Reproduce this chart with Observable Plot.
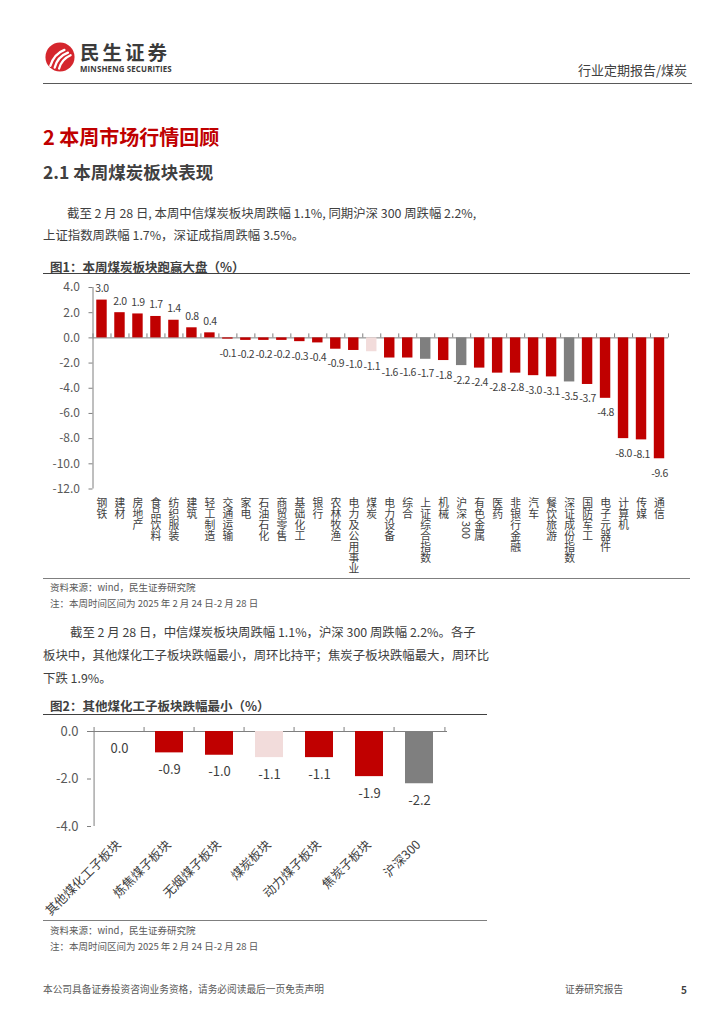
<!DOCTYPE html>
<html><head><meta charset="utf-8">
<script src="https://cdn.jsdelivr.net/npm/d3@7"></script>
<script src="https://cdn.jsdelivr.net/npm/@observablehq/plot@0.6"></script>
<style>
body{margin:0;width:724px;height:1024px;position:relative;background:#fff;font-family:"Noto Sans CJK SC","Noto Sans",sans-serif;color:#404040;overflow:hidden}
.a{position:absolute;white-space:nowrap;line-height:1}
.hr{position:absolute;height:0}
svg text{font-family:"Noto Sans CJK SC","Noto Sans",sans-serif}
</style></head><body>

<svg class="a" style="left:45px;top:42px" width="30" height="30" viewBox="0 0 34 34">
  <circle cx="17" cy="17" r="16.5" fill="#d5262d"/>
  <path d="M6 27 C9 18 14 12 22 9" stroke="#fff" stroke-width="2.6" fill="none" stroke-linecap="round"/>
  <path d="M11 29 C13 21 18 15 26 12" stroke="#fff" stroke-width="2.6" fill="none" stroke-linecap="round"/>
  <path d="M16 30 C18 23 22 18 29 15" stroke="#fff" stroke-width="2.6" fill="none" stroke-linecap="round"/>
</svg>
<div class="a" style="left:80px;top:42px;font-size:19.5px;font-weight:700;color:#3b3b3b;letter-spacing:3px">民生证券</div>
<div class="a" style="left:80px;top:66px;font-size:7.9px;font-weight:700;color:#3b3b3b;font-family:'Open Sans',sans-serif;letter-spacing:0.15px">MINSHENG SECURITIES</div>
<div class="a" style="left:578px;top:63px;font-size:13px;color:#404040">行业定期报告/煤炭</div>
<div class="hr" style="left:43px;top:83px;width:649px;border-top:1.5px solid #595959"></div>

<div class="a" style="left:43px;top:127px;font-size:20px;font-weight:700;color:#c00000">2 本周市场行情回顾</div>
<div class="a" style="left:43px;top:163px;font-size:17.5px;font-weight:700;color:#404040">2.1 本周煤炭板块表现</div>
<div class="a" style="left:67px;top:207px;font-size:12.4px">截至 2 月 28 日, 本周中信煤炭板块周跌幅 1.1%, 同期沪深 300 周跌幅 2.2%,</div>
<div class="a" style="left:43px;top:229px;font-size:12.4px">上证指数周跌幅 1.7%，深证成指周跌幅 3.5%。</div>

<div class="a" style="left:50px;top:261px;font-size:12.5px;font-weight:700;color:#404040">图1：本周煤炭板块跑赢大盘（%）</div>
<div class="hr" style="left:43px;top:273px;width:647px;border-top:1px solid #404040"></div>
<div id="fig1" class="a" style="left:43px;top:276px"></div>
<div class="hr" style="left:43px;top:578px;width:647px;border-top:1px solid #7f7f7f"></div>
<div class="a" style="left:50px;top:583px;font-size:9.5px;color:#595959">资料来源：wind，民生证券研究院</div>
<div class="a" style="left:50px;top:599px;font-size:9.5px;color:#595959">注：本周时间区间为 2025 年 2 月 24 日-2 月 28 日</div>

<div class="a" style="left:70px;top:626px;font-size:12.4px">截至 2 月 28 日，中信煤炭板块周跌幅 1.1%，沪深 300 周跌幅 2.2%。各子</div>
<div class="a" style="left:43px;top:649px;font-size:12.4px">板块中，其他煤化工子板块跌幅最小，周环比持平；焦炭子板块跌幅最大，周环比</div>
<div class="a" style="left:43px;top:672px;font-size:12.4px">下跌 1.9%。</div>

<div class="a" style="left:50px;top:700px;font-size:12.5px;font-weight:700;color:#404040">图2：其他煤化工子板块跌幅最小（%）</div>
<div class="hr" style="left:43px;top:714px;width:444px;border-top:1px solid #404040"></div>
<div id="fig2" class="a" style="left:43px;top:718px"></div>
<div class="hr" style="left:43px;top:920px;width:444px;border-top:1px solid #7f7f7f"></div>
<div class="a" style="left:50px;top:926px;font-size:9.5px;color:#595959">资料来源：wind，民生证券研究院</div>
<div class="a" style="left:50px;top:942px;font-size:9.5px;color:#595959">注：本周时间区间为 2025 年 2 月 24 日-2 月 28 日</div>

<div class="a" style="left:43px;top:985px;font-size:9.7px;color:#595959">本公司具备证券投资咨询业务资格，请务必阅读最后一页免责声明</div>
<div class="a" style="left:565px;top:985px;font-size:9.7px;color:#595959">证券研究报告</div>
<div class="a" style="left:681px;top:985px;font-size:10px;font-weight:700;color:#404040">5</div>

<script>
// ---- Figure 1 data ----
const cats1 = ["钢铁","建材","房地产","食品饮料","纺织服装","建筑","轻工制造","交通运输","家电","石油石化","商贸零售","基础化工","银行","农林牧渔","电力及公用事业","煤炭","电力设备","综合","上证综合指数","机械","沪深300","有色金属","医药","非银行金融","汽车","餐饮旅游","深证成份指数","国防军工","电子元器件","计算机","传媒","通信"];
const vals1 = [3.0,2.0,1.9,1.7,1.4,0.8,0.4,-0.1,-0.2,-0.2,-0.2,-0.3,-0.4,-0.9,-1.0,-1.1,-1.6,-1.6,-1.7,-1.8,-2.2,-2.4,-2.8,-2.8,-3.0,-3.1,-3.5,-3.7,-4.8,-8.0,-8.1,-9.6];
const kinds1 = ["行业","行业","行业","行业","行业","行业","行业","行业","行业","行业","行业","行业","行业","行业","行业","煤炭","行业","行业","指数","行业","指数","行业","行业","行业","行业","行业","指数","行业","行业","行业","行业","行业"];
const yTicks1 = [4,2,0,-2,-4,-6,-8,-10,-12];

// ---- Figure 2 data ----
const cats2 = ["其他煤化工子板块","炼焦煤子板块","无烟煤子板块","煤炭板块","动力煤子板块","焦炭子板块","沪深300"];
const vals2 = [0.0,-0.9,-1.0,-1.1,-1.1,-1.9,-2.2];
const kinds2 = ["行业","行业","行业","煤炭","行业","行业","指数"];
const yTicks2 = [0,-2,-4];

const kindDomain = ["行业","煤炭","指数"];
const kindRange = ["#c00000","#f2dcdb","#7f7f7f"];
const fmt = v => v.toFixed(1);
const axisColor = "#7f7f7f";

function chart({cats, vals, kinds, ticks, width, height, mt, mb, ml, mr, pad, labelSize, tickSize, posDy, negDy, xLabels}) {
  const data = cats.map((c,i)=>({name:c, value:vals[i], kind:kinds[i]}));
  const ymin = d3.min(ticks), ymax = d3.max(ticks);
  const step = (width - ml - mr) / cats.length;
  const pxPerUnit = (height - mt - mb) / (ymax - ymin);
  const tickLen = 4 / pxPerUnit;
  const marks = [
    Plot.ruleY([0], {stroke: axisColor, strokeWidth: 1}),
    Plot.ruleX(cats, {x: d=>d, dx: -step/2, y1: 0, y2: tickLen, stroke: axisColor}),
    Plot.ruleX([cats[cats.length-1]], {x: d=>d, dx: step/2, y1: 0, y2: tickLen, stroke: axisColor}),
    Plot.ruleX([cats[0]], {x: d=>d, dx: -step/2, y1: ymin, y2: ymax, stroke: axisColor}),
    Plot.barY(data, {x: "name", y: "value", fill: "kind"}),
    Plot.axisY({ticks, tickFormat: fmt, tickSize: 4, tickPadding: 9, fontSize: tickSize, stroke: axisColor, fill: "#595959", label: null}),
    Plot.text(data.filter(d=>d.value>0), {x:"name", y:"value", text: d=>fmt(d.value), lineAnchor:"bottom", dy:posDy, fontSize: labelSize, fill:"#404040"}),
    Plot.text(data.filter(d=>d.value<=0), {x:"name", y:"value", text: d=>fmt(d.value), lineAnchor:"top", dy:negDy, fontSize: labelSize, fill:"#404040"}),
    ...xLabels(data, step)
  ];
  return Plot.plot({
    width, height, marginTop: mt, marginBottom: mb, marginLeft: ml, marginRight: mr,
    x: {type:"band", domain: cats, paddingInner: pad, paddingOuter: pad/2, axis: null},
    y: {domain: [ymin, ymax], axis: null},
    color: {domain: kindDomain, range: kindRange},
    style: {background:"transparent", overflow:"visible"},
    marks
  });
}

// Figure 1: stacked (vertical) category labels; one glyph per row, digit runs turned sideways
const charPx = 11;
function verticalLabels(data) {
  const tokens = data.flatMap(d => {
    const t = d.name.match(/\d+|./g);
    return t.map((s, k) => ({name: d.name, s, k, digit: /\d/.test(s)}));
  });
  const maxK = d3.max(tokens, d => d.k);
  const marks = [];
  for (let k = 0; k <= maxK; k++) {
    const row = tokens.filter(d => d.k === k && !d.digit);
    if (row.length) marks.push(Plot.text(row, {x:"name", text:"s", frameAnchor:"bottom", lineAnchor:"middle", dy: 9 + k*charPx + charPx/2, fontSize:10.8, fill:"#404040"}));
    const dig = tokens.filter(d => d.k === k && d.digit);
    if (dig.length) marks.push(Plot.text(dig, {x:"name", text:"s", frameAnchor:"bottom", rotate:90, textAnchor:"start", dy: 9 + k*charPx + 1, fontSize:10.8, fill:"#404040"}));
  }
  return marks;
}

const svg1 = chart({
  cats: cats1, vals: vals1, kinds: kinds1, ticks: yTicks1,
  width: 647, height: 300, mt: 11, mb: 87.5, ml: 49.5, mr: 22,
  pad: 0.42, labelSize: 10.5, tickSize: 12, posDy: -8, negDy: 10.5,
  xLabels: verticalLabels
});
d3.select(svg1).selectAll('g[aria-label="text"] text').each(function(){
  if (/^-?\d+\.\d$/.test(this.textContent)) d3.select(this).style("letter-spacing", "-0.4px");
});
document.getElementById("fig1").append(svg1);

document.getElementById("fig2").append(chart({
  cats: cats2, vals: vals2, kinds: kinds2, ticks: yTicks2,
  width: 444, height: 200, mt: 13, mb: 92, ml: 48, mr: 40,
  pad: 0.45, labelSize: 13, tickSize: 13, posDy: -8, negDy: 12,
  xLabels: (data) => [Plot.text(data, {x:"name", text:"name", frameAnchor:"bottom", rotate:-45, textAnchor:"end", dy:19, dx:2, fontSize:12.5, fill:"#404040"})]
}));
</script>
</body></html>
